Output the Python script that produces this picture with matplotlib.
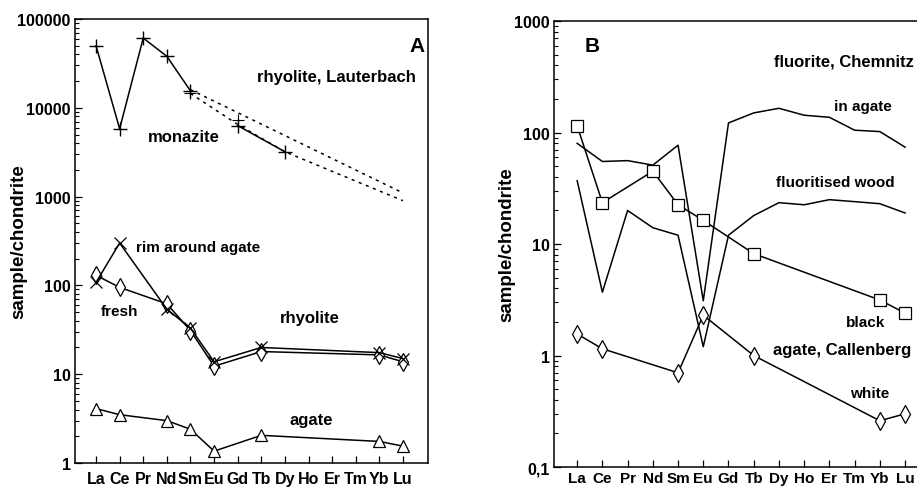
import numpy as np
import matplotlib.pyplot as plt
from matplotlib.ticker import LogLocator, FixedLocator, NullFormatter

elements = ['La', 'Ce', 'Pr', 'Nd', 'Sm', 'Eu', 'Gd', 'Tb', 'Dy', 'Ho', 'Er', 'Tm', 'Yb', 'Lu']

# panel A - rhyolite, Lauterbach (nan = not analysed)
nan = np.nan
monazite_lree = [50000, 5800, 61000, 38000, 15500, nan, nan, nan, nan, nan, nan, nan, nan, nan]
monazite_hree = [nan, nan, nan, nan, nan, nan, 6300, nan, 3200, nan, nan, nan, nan, nan]
monazite_extra = [nan, nan, nan, nan, 14500, nan, 7200, nan, nan, nan, nan, nan, nan, nan]
monazite_dash1 = [nan, nan, nan, nan, 16000, nan, nan, nan, nan, nan, nan, nan, nan, 1100]
monazite_dash2 = [nan, nan, nan, nan, 14500, nan, 6500, nan, 3200, nan, nan, nan, nan, 900]
rhy_fresh = [130, 95, nan, 62, 31, 12.3, nan, 18, nan, nan, nan, nan, 16.5, 13.8]
rhy_rim = [108, 300, nan, 54, 33, 13.8, nan, 20, nan, nan, nan, nan, 17.5, 15]
agate_a = [4.1, 3.5, nan, 3.0, 2.4, 1.36, nan, 2.05, nan, nan, nan, nan, 1.75, 1.55]

# panel B - fluorite, Chemnitz / agate, Callenberg
fl_in_agate = [80, 55, 56, 51, 77, 3.1, 122, 150, 165, 143, 137, 105, 102, 74]
fl_wood = [37, 3.7, 20, 14, 12, 1.2, 12, 18, 23.5, 22.5, 25, 24, 23, 19]
agate_black = [115, 23.5, nan, 45, 22.5, 16.3, nan, 8.2, nan, nan, nan, nan, 3.15, 2.4]
agate_white = [1.56, 1.15, nan, nan, 0.7, 2.3, nan, 1.0, nan, nan, nan, nan, 0.26, 0.30]

x = np.arange(len(elements))
FONT = 'Liberation Sans'


def draw(ax, vals, marker=None, ls='-', ms=8, mew=0.9):
    v = np.array(vals, dtype=float)
    ok = ~np.isnan(v)
    ax.plot(x[ok], v[ok], color='black', lw=1.1, ls=ls, marker=marker, ms=ms,
            mfc='white' if marker not in ('+', 'x', None) else 'black',
            mec='black', mew=mew, dash_capstyle='butt')


def style(ax, ymin, ymax, yticks, ylabels, xsize=11.5, xpad=6):
    ax.set_yscale('log')
    ax.set_ylim(ymin, ymax)
    ax.set_xticks(x)
    ax.set_xticklabels(elements, fontsize=xsize, fontweight='bold', family=FONT)
    ax.yaxis.set_major_locator(FixedLocator(yticks))
    ax.set_yticklabels(ylabels, fontsize=11.5, fontweight='bold', family=FONT)
    ax.yaxis.set_minor_locator(LogLocator(base=10, subs=np.arange(2, 10)))
    ax.yaxis.set_minor_formatter(NullFormatter())
    ax.tick_params(axis='both', which='major', direction='in', length=5, width=0.9, pad=3)
    ax.tick_params(axis='y', which='minor', direction='in', length=3, width=0.8)
    ax.tick_params(axis='x', which='major', pad=xpad)
    ax.set_ylabel('sample/chondrite', fontsize=13.5, fontweight='bold', family=FONT)
    for s in ax.spines.values():
        s.set_linewidth(1.1)


fig = plt.figure(figsize=(9.17, 4.89), dpi=100)

big = dict(fontweight='bold', family=FONT, fontsize=12, va='center')
small = dict(fontweight='bold', family=FONT, fontsize=11, va='center')

# panel A
ax1 = fig.add_axes([0.0818, 0.0511, 0.3849, 0.908])
draw(ax1, monazite_lree, marker='+', ms=10, mew=1.0)
draw(ax1, monazite_hree, marker='+', ms=10, mew=1.0)
draw(ax1, monazite_extra, marker='+', ms=8, mew=0.8, ls='none')
draw(ax1, monazite_dash1, ls=(0, (2, 3)))
draw(ax1, monazite_dash2, ls=(0, (2, 3)))
draw(ax1, rhy_fresh, marker='d', ms=9)
draw(ax1, rhy_rim, marker='x', ms=8)
draw(ax1, agate_a, marker='^', ms=8)
ax1.set_xlim(-0.89, 14.06)
style(ax1, 1, 100000, [1, 10, 100, 1000, 10000, 100000],
      ['1', '10', '100', '1000', '10000', '100000'])
ax1.yaxis.set_label_coords(-0.136, 0.5)

ax1.text(13.9, 50000, 'A', ha='right', va='center', fontsize=15, fontweight='bold', family=FONT)
ax1.text(13.55, 22800, 'rhyolite, Lauterbach', ha='right', **big)
ax1.text(2.2, 4800, 'monazite', ha='left', **big)
ax1.text(1.7, 270, 'rim around agate', ha='left', **small)
ax1.text(0.2, 52, 'fresh', ha='left', **small)
ax1.text(7.8, 43, 'rhyolite', ha='left', **big)
ax1.text(8.2, 3.1, 'agate', ha='left', **big)

# panel B (cropped at the right edge of the picture)
ax2 = fig.add_axes([0.6041, 0.0429, 0.4200, 0.912])
draw(ax2, fl_in_agate)
draw(ax2, fl_wood)
draw(ax2, agate_black, marker='s', ms=8)
draw(ax2, agate_white, marker='d', ms=9)
ax2.set_xlim(-0.92, 14.35)
style(ax2, 0.1, 1000, [0.1, 1, 10, 100, 1000], ['0,1', '1', '10', '100', '1000'],
      xsize=11, xpad=3)
ax2.spines['right'].set_visible(False)
ax2.yaxis.set_label_coords(-0.101, 0.5)

ax2.text(0.3, 600, 'B', ha='left', va='center', fontsize=15, fontweight='bold', family=FONT)
ax2.text(7.8, 435, 'fluorite, Chemnitz', ha='left', **big)
ax2.text(10.2, 172, 'in agate', ha='left', **small)
ax2.text(7.9, 36, 'fluoritised wood', ha='left', **small)
ax2.text(10.65, 2.0, 'black', ha='left', **small)
ax2.text(7.75, 1.14, 'agate, Callenberg', ha='left', **big)
ax2.text(10.8, 0.46, 'white', ha='left', **small)

fig.savefig('out.png', dpi=100)
